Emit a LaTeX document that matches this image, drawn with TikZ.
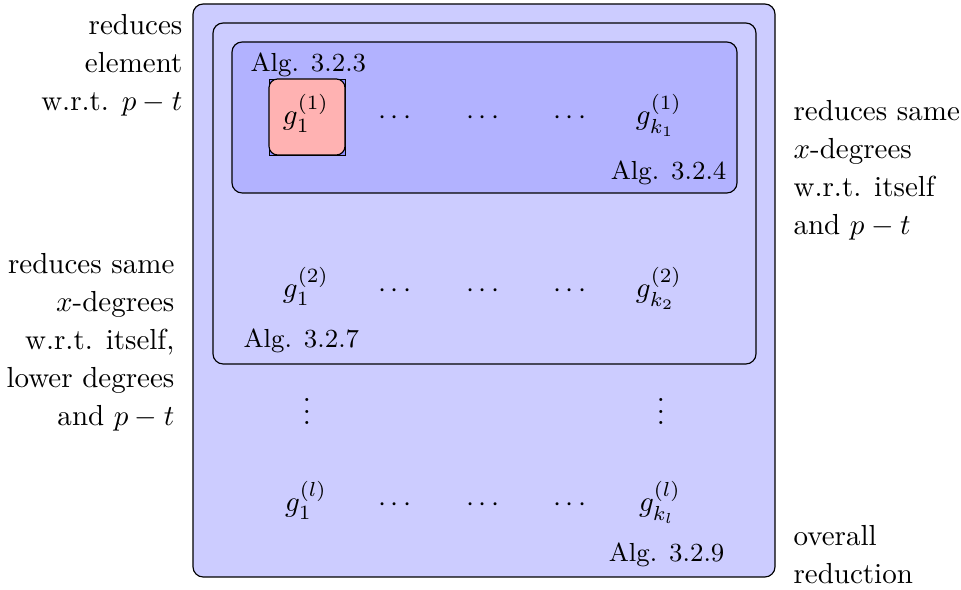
\documentclass[tikz,border=0pt]{standalone}
\begin{document}
\begin{tikzpicture}[x=0.3448pt,y=-0.3448pt,
  outerbox/.style={draw=black, fill=blue!20, rounded corners=3.5pt},
  midbox/.style={draw=black, rounded corners=3.5pt},
  innerbox/.style={draw=black, fill=blue!30, rounded corners=3.5pt},
  redbox/.style={draw=black, fill=red!30, rounded corners=3pt},
  sqbox/.style={draw=black, fill=blue!45, line width=0.3pt},
  elem/.style={anchor=base, inner sep=0pt},
  alg/.style={font=\small, inner sep=0pt},
  side/.style={inner sep=0pt, font=\fontsize{10}{13.1}\selectfont}
]
\useasboundingbox (0,0) rectangle (961,590);
% boxes
\draw[outerbox] (193,4) rectangle (775,577);
\draw[midbox] (213,23) rectangle (756,364);
\draw[innerbox] (232,42) rectangle (737,193);
\draw[sqbox] (269,79) rectangle (345,155);
\draw[redbox] (269,79) rectangle (345,155);
% row 1
\node[elem] (g11) at (306,125) {$g_1^{(1)}$};
\node[elem] (c11) at (395,125) {$\cdots$};
\node[elem] (c12) at (483,125) {$\cdots$};
\node[elem] (c13) at (570,125) {$\cdots$};
\node[elem] (gk1) at (659,125) {$g_{k_1}^{(1)}$};
% row 2
\node[elem] (g12) at (306,298) {$g_1^{(2)}$};
\node[elem] (c21) at (395,298) {$\cdots$};
\node[elem] (c22) at (483,298) {$\cdots$};
\node[elem] (c23) at (570,298) {$\cdots$};
\node[elem] (gk2) at (659,298) {$g_{k_2}^{(2)}$};
% vdots
\node[elem] (v1) at (307,425) {$\vdots$};
\node[elem] (v2) at (661,425) {$\vdots$};
% row l
\node[elem] (g1l) at (306,512) {$g_1^{(l)}$};
\node[elem] (cl1) at (395,512) {$\cdots$};
\node[elem] (cl2) at (483,512) {$\cdots$};
\node[elem] (cl3) at (570,512) {$\cdots$};
\node[elem] (gkl) at (660,512) {$g_{k_l}^{(l)}$};
% algorithm labels
\node[alg, anchor=base west] (a323) at (250,72) {Alg. 3.2.3};
\node[alg, anchor=base east] (a324) at (727,180) {Alg. 3.2.4};
\node[alg, anchor=base west] (a327) at (243,348) {Alg. 3.2.7};
\node[alg, anchor=base east] (a329) at (725,562) {Alg. 3.2.9};
% side texts
\node[side, align=right, anchor=east] (t1) at (183,65.5) {reduces\\element\\w.r.t. $p-t$};
\node[side, align=right, anchor=east] (t2) at (175,342) {reduces same\\$x$-degrees\\w.r.t. itself,\\lower degrees\\and $p-t$};
\node[side, align=left, anchor=west] (t3) at (793,170) {reduces same\\$x$-degrees\\w.r.t. itself\\and $p-t$};
\node[side, align=left, anchor=west] (t4) at (793,554.5) {overall\\reduction};
\end{tikzpicture}
\end{document}
